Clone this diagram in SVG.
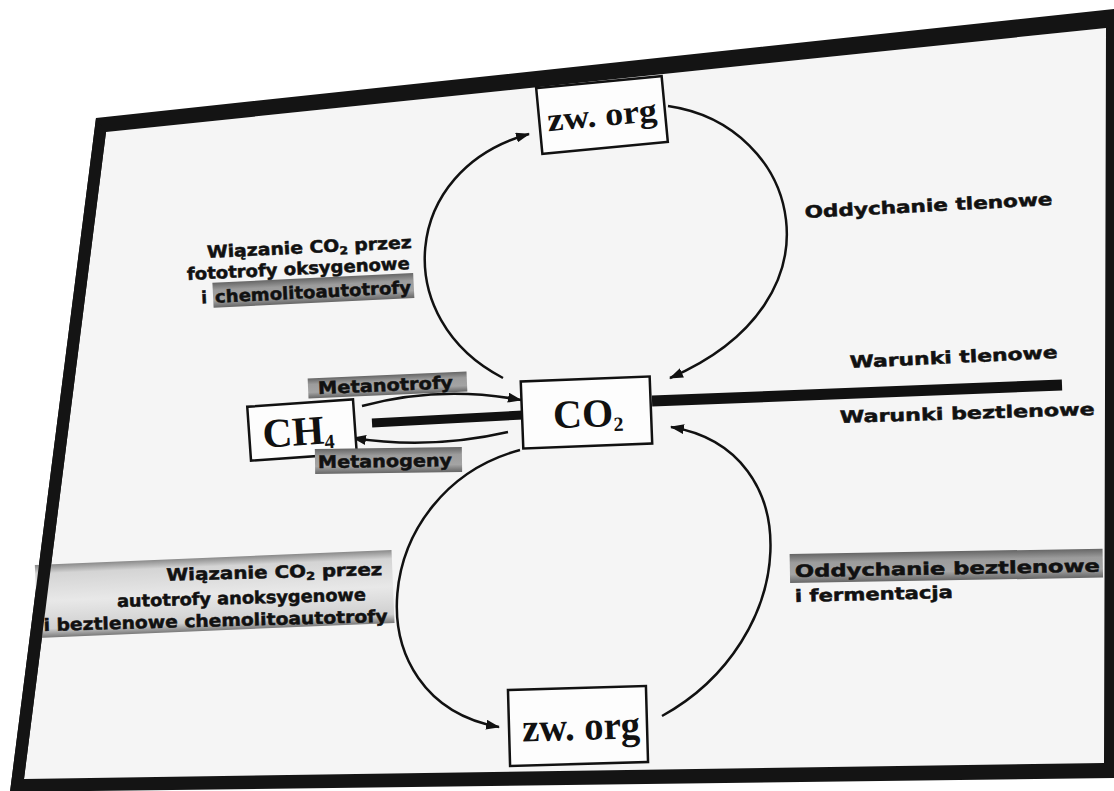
<svg xmlns="http://www.w3.org/2000/svg" width="1114" height="791" viewBox="0 0 1114 791">
<defs>
<style>
.box{fill:#fdfdfd;stroke:#111;stroke-width:2.5}
.serif{font-family:"Liberation Serif","Times New Roman",serif;font-weight:bold;fill:#111}
.lbl{font-family:"DejaVu Sans","Verdana",sans-serif;font-weight:bold;font-size:17px;fill:#111;stroke:#111;stroke-width:0.5}
.conn{fill:none;stroke:#111;stroke-width:2.5}
.hl{fill:url(#hlg)}
</style>
<linearGradient id="hlg" x1="0" y1="0" x2="0" y2="1">
<stop offset="0" stop-color="#666666"/>
<stop offset="0.3" stop-color="#9c9c9c"/>
<stop offset="0.7" stop-color="#a4a4a4"/>
<stop offset="1" stop-color="#666666"/>
</linearGradient>
<linearGradient id="band" x1="0" y1="0" x2="0" y2="1">
<stop offset="0" stop-color="#8a8a8a"/>
<stop offset="0.12" stop-color="#d4d4d4"/>
<stop offset="0.5" stop-color="#e8e8e8"/>
<stop offset="0.88" stop-color="#d0d0d0"/>
<stop offset="1" stop-color="#7a7a7a"/>
</linearGradient>
<marker id="arr" markerUnits="userSpaceOnUse" markerWidth="14" markerHeight="10" refX="13" refY="5" orient="auto">
<path d="M0,0 L14,5 L0,10 z" fill="#111"/>
</marker>
</defs>
<rect width="1114" height="791" fill="#ffffff"/>
<g id="frame">
<polygon points="106,132 1106,28 1104,763 24,779" fill="#f5f5f5"/>
<path d="M96,118 L1114,9 L1114,778 L10,792 Z M106,132 L24,779 L1104,763 L1106,28 Z" fill="#141414" fill-rule="evenodd"/>
</g>
<g id="divider">
<line x1="372" y1="423" x2="523" y2="415" stroke="#111" stroke-width="9"/>
<line x1="652" y1="401" x2="1062" y2="385" stroke="#111" stroke-width="11"/>
</g>
<g id="connectors">
<path class="conn" d="M503,378 C390,320 400,170 529,134" marker-end="url(#arr)"/>
<path class="conn" d="M668,106 C800,125 850,300 670,378" marker-end="url(#arr)"/>
<path class="conn" d="M520,450 C370,490 350,700 499,727" marker-end="url(#arr)"/>
<path class="conn" d="M662,716 C800,640 810,450 671,427" marker-end="url(#arr)"/>
<path class="conn" d="M362,406 Q440,385 521,400" marker-end="url(#arr)"/>
<path class="conn" d="M508,432 Q430,450 353,438" marker-end="url(#arr)"/>
</g>
<g id="node-zw-org-top" transform="rotate(-5.4 602 115)">
<rect class="box" x="539" y="82" width="126" height="66"/>
<text class="serif" x="602" y="126" text-anchor="middle" font-size="33" textLength="110" lengthAdjust="spacingAndGlyphs">zw. org</text>
</g>
<g id="node-co2" transform="rotate(-2.2 587 413)">
<rect class="box" x="522" y="379" width="129" height="67"/>
<text class="serif" x="588" y="427" text-anchor="middle" font-size="40">CO<tspan font-size="20" dy="5">2</tspan></text>
</g>
<g id="node-ch4" transform="rotate(-4 302 430)">
<rect class="box" x="249" y="403" width="106" height="54"/>
<text class="serif" x="298" y="445" text-anchor="middle" font-size="41">CH<tspan font-size="20" dy="5">4</tspan></text>
</g>
<g id="node-zw-org-bottom" transform="rotate(-1.6 578 726)">
<rect class="box" x="509" y="688" width="138" height="76"/>
<text class="serif" x="581" y="740" text-anchor="middle" font-size="40" textLength="118" lengthAdjust="spacingAndGlyphs">zw. org</text>
</g>
<g id="label-wiazanie-top" transform="rotate(-2.8 413 270)">
<text class="lbl" x="413" y="248" text-anchor="end" textLength="205" lengthAdjust="spacingAndGlyphs">Wiązanie CO<tspan font-size="11" dy="3">2</tspan><tspan dy="-3"> przez</tspan></text>
<text class="lbl" x="410" y="269" text-anchor="end" textLength="223" lengthAdjust="spacingAndGlyphs">fototrofy oksygenowe</text>
<rect class="hl" x="212" y="273" width="201" height="25"/>
<text class="lbl" x="200" y="293">i</text>
<text class="lbl" x="410" y="293" text-anchor="end" textLength="196" lengthAdjust="spacingAndGlyphs">chemolitoautotrofy</text>
</g>
<g id="label-metanotrofy" transform="rotate(-2.5 388 385)">
<rect class="hl" x="308" y="375" width="159" height="20"/>
<text class="lbl" x="318" y="391" textLength="135" lengthAdjust="spacingAndGlyphs">Metanotrofy</text>
</g>
<g id="label-metanogeny" transform="rotate(-0.8 388 461)">
<rect class="hl" x="315" y="448" width="147" height="25"/>
<text class="lbl" x="318" y="467" textLength="134" lengthAdjust="spacingAndGlyphs">Metanogeny</text>
</g>
<g id="label-oddychanie-tlenowe">
<text class="lbl" x="805" y="218" font-size="18" textLength="248" lengthAdjust="spacingAndGlyphs" transform="rotate(-3 805 218)">Oddychanie tlenowe</text>
</g>
<g id="label-warunki">
<text class="lbl" x="850" y="368" font-size="18" textLength="208" lengthAdjust="spacingAndGlyphs" transform="rotate(-2.75 850 368)">Warunki tlenowe</text>
<text class="lbl" x="840" y="423" font-size="18" textLength="255" lengthAdjust="spacingAndGlyphs" transform="rotate(-1.8 840 423)">Warunki beztlenowe</text>
</g>
<g id="label-oddychanie-beztlenowe">
<g transform="rotate(-1 795 577)">
<rect class="hl" x="790" y="554" width="313" height="29"/>
<text class="lbl" x="795" y="577" font-size="19" textLength="305" lengthAdjust="spacingAndGlyphs">Oddychanie beztlenowe</text>
</g>
<text class="lbl" x="795" y="602" textLength="158" lengthAdjust="spacingAndGlyphs" transform="rotate(-1.5 795 602)">i fermentacja</text>
</g>
<g id="label-wiazanie-bottom">
<g transform="rotate(-2.4 393 586)">
<rect x="36" y="550" width="357" height="73" fill="url(#band)"/>
</g>
<g transform="rotate(-1.5 387 598)">
<text class="lbl" x="383" y="575" text-anchor="end" textLength="216" lengthAdjust="spacingAndGlyphs">Wiązanie CO<tspan font-size="11" dy="3">2</tspan><tspan dy="-3"> przez</tspan></text>
<text class="lbl" x="366" y="600" text-anchor="end" textLength="249" lengthAdjust="spacingAndGlyphs">autotrofy anoksygenowe</text>
<text class="lbl" x="387" y="622" text-anchor="end" textLength="344" lengthAdjust="spacingAndGlyphs">i beztlenowe chemolitoautotrofy</text>
</g>
</g>
<path d="M96,118 L10,792 L24,779 L106,132 Z" fill="#141414"/>
</svg>
